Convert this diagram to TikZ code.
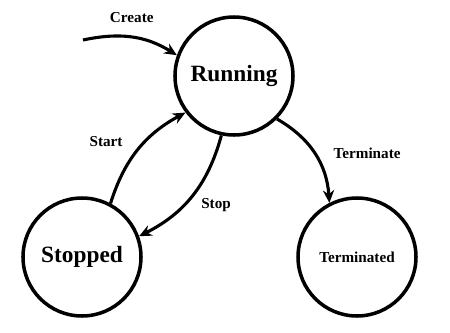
\documentclass[tikz,border=0pt]{standalone}
\usepackage{fontspec}
\setmainfont{Liberation Serif}
\usepackage{tikz}
\usetikzlibrary{arrows.meta,positioning}

\begin{document}
\begin{tikzpicture}[font=\bfseries,
  etat/.style={circle,draw,line width=2.5pt,minimum size=2.95cm,inner sep=0pt},
  trans/.style={-{Stealth[length=9pt,width=8pt]},line width=2.2pt},
  etiq/.style={font=\bfseries\fontsize{10.8}{12}\selectfont}]

  \useasboundingbox (0,0) rectangle (11.25,8.3);

  \node[etat,font=\bfseries\fontsize{16.6}{18}\selectfont] (RUN) at (5.85,6.4) {Running};
  \node[etat,font=\bfseries\fontsize{16.6}{18}\selectfont] (STP) at (2.05,1.875) {Stopped};
  \node[etat,etiq] (TRM) at (8.925,1.875) {Terminated};
  \coordinate (INIT) at (2.075,7.3);

  \draw[trans] (INIT) to[out=12,in=148]
    node[etiq,midway,above=6pt]{Create} (RUN.160);
  \draw[trans] (STP.62) to[bend left=22]
    node[etiq,pos=0.6,left=12pt]{Start} (RUN.217);
  \draw[trans] (RUN.258) to[bend left=24]
    node[etiq,pos=0.6,right=8pt]{Stop} (STP.20);
  \draw[trans] (RUN.-45) to[bend left=28]
    node[etiq,midway,right=9pt]{Terminate} (TRM.117);
\end{tikzpicture}
\end{document}
